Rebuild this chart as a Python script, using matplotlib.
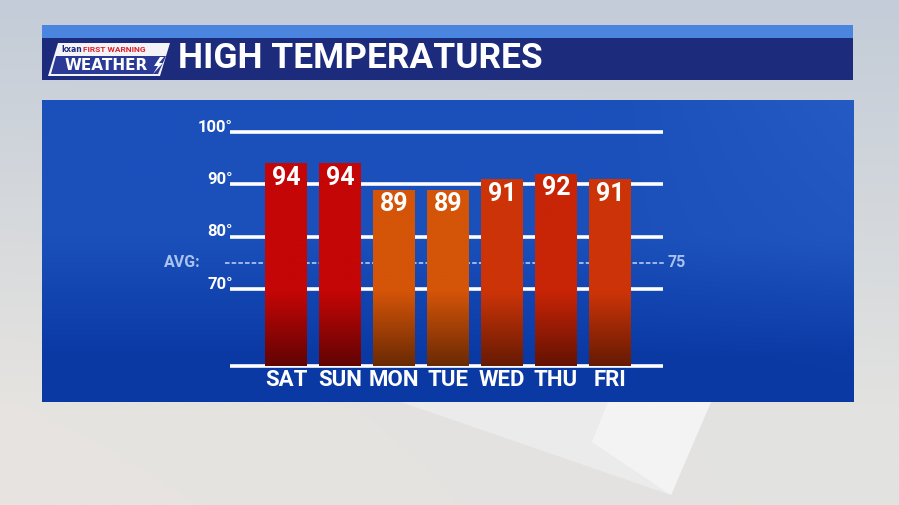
import numpy as np
import matplotlib
matplotlib.use("Agg")
import matplotlib.pyplot as plt
from matplotlib.patches import Rectangle, Polygon
from matplotlib.colors import to_rgb

# ---- data ----
days = ["SAT", "SUN", "MON", "TUE", "WED", "THU", "FRI"]
highs = [94, 94, 89, 89, 91, 92, 91]
bar_colors = ["#c40606", "#c40606", "#d45408", "#d45408", "#cc3408", "#c82406", "#cc3408"]
grid_temps = [70, 80, 90, 100]
grid_labels = ["70°", "80°", "90°", "100°"]
avg_temp = 75
title = "HIGH TEMPERATURES"

FONT = ["Liberation Sans Narrow", "Roboto", "DejaVu Sans"]

W, H = 899, 505
fig = plt.figure(figsize=(W / 100, H / 100), dpi=100)

def fx(p):
    return p / W

def fy(p):
    return 1 - p / H

# ---- background ----
bg = fig.add_axes([0, 0, 1, 1])
bg.set_axis_off()
yy = np.linspace(0, 1, 200)[:, None]
xx = np.linspace(0, 1, 300)[None, :]
top = np.array(to_rgb("#c3ccd8"))
bot = np.array(to_rgb("#e2e2e0"))
tb = np.clip(yy / 0.8, 0, 1)
img = top[None, None, :] * (1 - tb[..., None]) + bot[None, None, :] * tb[..., None]
img = img + 0.04 * (1 - xx[..., None]) * yy[..., None] * np.array([0.5, 0.2, 0.0])[None, None, :]
bg.imshow(np.clip(img, 0, 1), extent=[0, 1, 0, 1], aspect="auto", zorder=0)
# light tilted plate in lower right
bg.add_patch(Polygon([(fx(401), fy(402)), (fx(711), fy(402)), (fx(671), fy(495))],
                     closed=True, facecolor="#eeeeee", edgecolor="none", alpha=0.8, zorder=1))
bg.add_patch(Polygon([(fx(608), fy(402)), (fx(711), fy(402)), (fx(671), fy(495)), (fx(592), fy(442))],
                     closed=True, facecolor="#f6f6f6", edgecolor="none", alpha=0.8, zorder=1))

# ---- title bar ----
bg.add_patch(Rectangle((fx(42), fy(38)), fx(853 - 42), fy(25) - fy(38), facecolor="#4a86e0",
                       edgecolor="none", zorder=2))
bg.add_patch(Rectangle((fx(42), fy(80)), fx(853 - 42), fy(38) - fy(80), facecolor="#1d2b7c",
                       edgecolor="none", zorder=2))
# logo
bg.add_patch(Polygon([(fx(48), fy(76)), (fx(58), fy(43)), (fx(170), fy(43)), (fx(160), fy(76))],
                     closed=True, facecolor="#f4f4f8", edgecolor="none", zorder=3))
bg.add_patch(Polygon([(fx(51), fy(74)), (fx(56), fy(56)), (fx(166), fy(56)), (fx(158), fy(74))],
                     closed=True, facecolor="#2a3a96", edgecolor="none", zorder=3))
bg.text(fx(61), fy(49.5), "kxan", color="#1d2b7c", fontsize=5.5, fontweight="bold",
        ha="left", va="center", family="DejaVu Sans", zorder=4)
bg.text(fx(83), fy(49.5), "FIRST WARNING", color="#e0202a", fontsize=6, fontweight="bold",
        ha="left", va="center", family=FONT, zorder=4)
bg.text(fx(106), fy(65), "WEATHER", color="white", fontsize=11, fontweight="bold",
        ha="center", va="center", family="DejaVu Sans", zorder=4)
bg.add_patch(Polygon([(fx(160), fy(57)), (fx(154), fy(66)), (fx(158), fy(66)), (fx(153), fy(74)),
                      (fx(163), fy(63)), (fx(159), fy(63)), (fx(164), fy(57))],
                     closed=True, facecolor="white", edgecolor="none", zorder=4))
bg.text(fx(178), fy(59), title, color="white", fontsize=25.5, fontweight="bold",
        ha="left", va="center", family=FONT, zorder=4)

# ---- main panel ----
P_L, P_R, P_T, P_B = 42, 854, 100, 402
py = np.linspace(0, 1, 200)[:, None]
px = np.linspace(0, 1, 300)[None, :]
c_top = np.array(to_rgb("#1b50bb"))
c_bot = np.array(to_rgb("#0a39a4"))
t = np.clip((py - 0.45) / 0.4, 0, 1)
panel = c_top[None, None, :] * (1 - t[..., None]) + c_bot[None, None, :] * t[..., None]
panel = panel + 0.04 * np.clip((px - 0.7) / 0.3, 0, 1)[..., None] * (1 - py[..., None])
bg.imshow(np.clip(panel, 0, 1), extent=[fx(P_L), fx(P_R), fy(P_B), fy(P_T)], aspect="auto", zorder=2)
bg.set_xlim(0, 1)
bg.set_ylim(0, 1)

# data axes over the panel
ax = fig.add_axes([fx(P_L), fy(P_B), fx(P_R - P_L), fy(P_T) - fy(P_B)])
ax.set_axis_off()
ax.patch.set_alpha(0)
px_per_deg = 5.23
px_per_idx = 54.0
x0_px = 286.0
y100_px = 132.0
xlim = ((P_L - x0_px) / px_per_idx, (P_R - x0_px) / px_per_idx)
ylim = (100 - (P_B - y100_px) / px_per_deg, 100 + (y100_px - P_T) / px_per_deg)
base = 100 - (366 - y100_px) / px_per_deg
fade_start = 100 - (292 - y100_px) / px_per_deg
gx0 = (230 - x0_px) / px_per_idx
gx1 = (663 - x0_px) / px_per_idx

for tv, tl in zip(grid_temps, grid_labels):
    ax.plot([gx0, gx1], [tv, tv], color="white", lw=2.6, solid_capstyle="butt", zorder=1)
    ax.text(gx0 + 0.05, tv + 0.9, tl, color="white", fontsize=12, fontweight="bold",
            ha="right", va="center", family=FONT, zorder=5)
ax.plot([gx0, gx1], [base, base], color="white", lw=2.6, solid_capstyle="butt", zorder=1)

# average dashed line
ax.plot([(225 - x0_px) / px_per_idx, (665 - x0_px) / px_per_idx], [avg_temp, avg_temp],
        color="#a9c2ee", lw=1.3, ls=(0, (2.5, 1.2)), zorder=1)
ax.text((201 - x0_px) / px_per_idx, avg_temp, "AVG:", color="#a9c2ee", fontsize=11.5, fontweight="bold",
        ha="right", va="center", family=FONT, zorder=5)
ax.text((668 - x0_px) / px_per_idx, avg_temp, str(avg_temp), color="#a9c2ee", fontsize=11.5,
        fontweight="bold", ha="left", va="center", family=FONT, zorder=5)

bw = 42 / px_per_idx
for i, (d, v, c) in enumerate(zip(days, highs, bar_colors)):
    rect = ax.bar(i, v - base, bottom=base, width=bw, color=c, edgecolor="none", zorder=3)[0]
    crgb = np.array(to_rgb(c))
    dark = crgb * 0.5
    temps = np.linspace(v, base, 300)[:, None]  # top -> bottom
    tt = np.clip((fade_start - temps) / (fade_start - base), 0, 1)
    grad = crgb[None, :] * (1 - tt) + dark[None, :] * tt
    im = ax.imshow(grad[:, None, :], extent=[i - bw / 2, i + bw / 2, base, v], aspect="auto",
                   zorder=4, interpolation="bilinear")
    im.set_clip_path(rect)
    ax.text(i, v - 0.5, str(v), color="white", fontsize=18, fontweight="bold", ha="center", va="top",
            family=FONT, zorder=6)
    ax.text(i, base - 0.6, d, color="white", fontsize=16, fontweight="bold", ha="center", va="top",
            family=FONT, zorder=6)

ax.set_xlim(*xlim)
ax.set_ylim(*ylim)

fig.savefig("out.png", dpi=100)
